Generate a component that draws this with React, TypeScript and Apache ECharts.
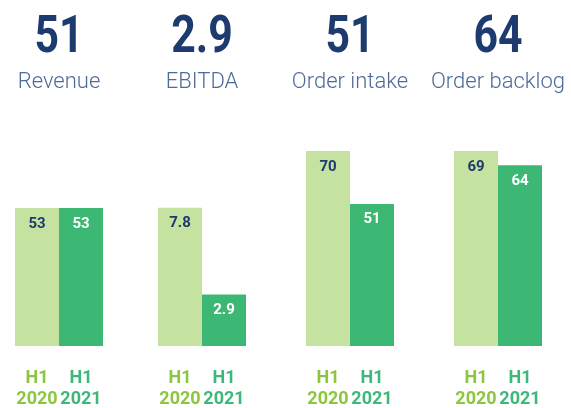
import React, { useEffect, useRef } from "react";
import * as echarts from "echarts";

const metrics = ["Revenue", "EBITDA", "Order intake", "Order backlog"];
const headline = ["51", "2.9", "51", "64"];
const periods = ["H1\n2020", "H1\n2021"];
const h1_2020 = [53, 7.8, 70, 69];
const h1_2021 = [53, 2.9, 51, 64];
const labels2020 = ["53", "7.8", "70", "69"];
const labels2021 = ["53", "2.9", "51", "64"];

const NAVY = "#1d3b6e";
const LIGHT_BAR = "#c6e2a0";
const DARK_BAR = "#3cb874";
const LIGHT_TXT = "#8cc63f";
const DARK_TXT = "#3cb878";

const panelLeft = [15, 158, 306, 454];
const panelMax = [74.9, 11.0, 70, 69];

export default function App() {
  const ref = useRef<HTMLDivElement>(null);
  useEffect(() => {
    if (!ref.current) return;
    const chart = echarts.init(ref.current, null, { renderer: "svg" });
    const grids: any[] = [];
    const xAxes: any[] = [];
    const yAxes: any[] = [];
    const series: any[] = [];
    const graphics: any[] = [];
    metrics.forEach((m, i) => {
      const cx = panelLeft[i] + 44;
      grids.push({ left: panelLeft[i], width: 88, top: 151, bottom: 55 });
      xAxes.push({
        type: "category",
        gridIndex: i,
        data: periods,
        axisLine: { show: false },
        axisTick: { show: false },
        axisLabel: {
          interval: 0,
          margin: 20,
          fontFamily: "Roboto",
          fontWeight: "bold",
          fontSize: 18,
          lineHeight: 21,
          color: (_v: any, idx: number) => (idx === 0 ? LIGHT_TXT : DARK_TXT),
        },
      });
      yAxes.push({ type: "value", gridIndex: i, min: 0, max: panelMax[i], show: false, splitLine: { show: false } });
      series.push({
        type: "bar",
        xAxisIndex: i,
        yAxisIndex: i,
        barWidth: "100%",
        barCategoryGap: 0,
        data: [
          {
            value: h1_2020[i],
            itemStyle: { color: LIGHT_BAR },
            label: { color: NAVY, formatter: labels2020[i] },
          },
          {
            value: h1_2021[i],
            itemStyle: { color: DARK_BAR },
            label: { color: "#ffffff", formatter: labels2021[i] },
          },
        ],
        label: {
          show: true,
          position: "insideTop",
          distance: 7,
          fontFamily: "Roboto",
          fontWeight: "bold",
          fontSize: 15,
        },
      });
      graphics.push({
        type: "text",
        x: cx,
        y: 34,
        scaleX: 0.84,
        style: {
          text: headline[i],
          fontFamily: "Roboto",
          fontWeight: "bold",
          fontSize: 51,
          fill: NAVY,
          textAlign: "center",
          textVerticalAlign: "middle",
        },
      });
      graphics.push({
        type: "text",
        x: cx,
        y: 80,
        style: {
          text: m,
          fontFamily: "Roboto",
          fontWeight: 300,
          fontSize: 22,
          fill: "#4f6a98",
          textAlign: "center",
          textVerticalAlign: "middle",
        },
      });
    });
    chart.setOption({
      animation: false,
      graphic: graphics,
      grid: grids,
      xAxis: xAxes,
      yAxis: yAxes,
      series,
    });
    return () => chart.dispose();
  }, []);
  return <div ref={ref} style={{ width: 571, height: 408, position: "fixed", left: 0, top: 0 }} />;
}
